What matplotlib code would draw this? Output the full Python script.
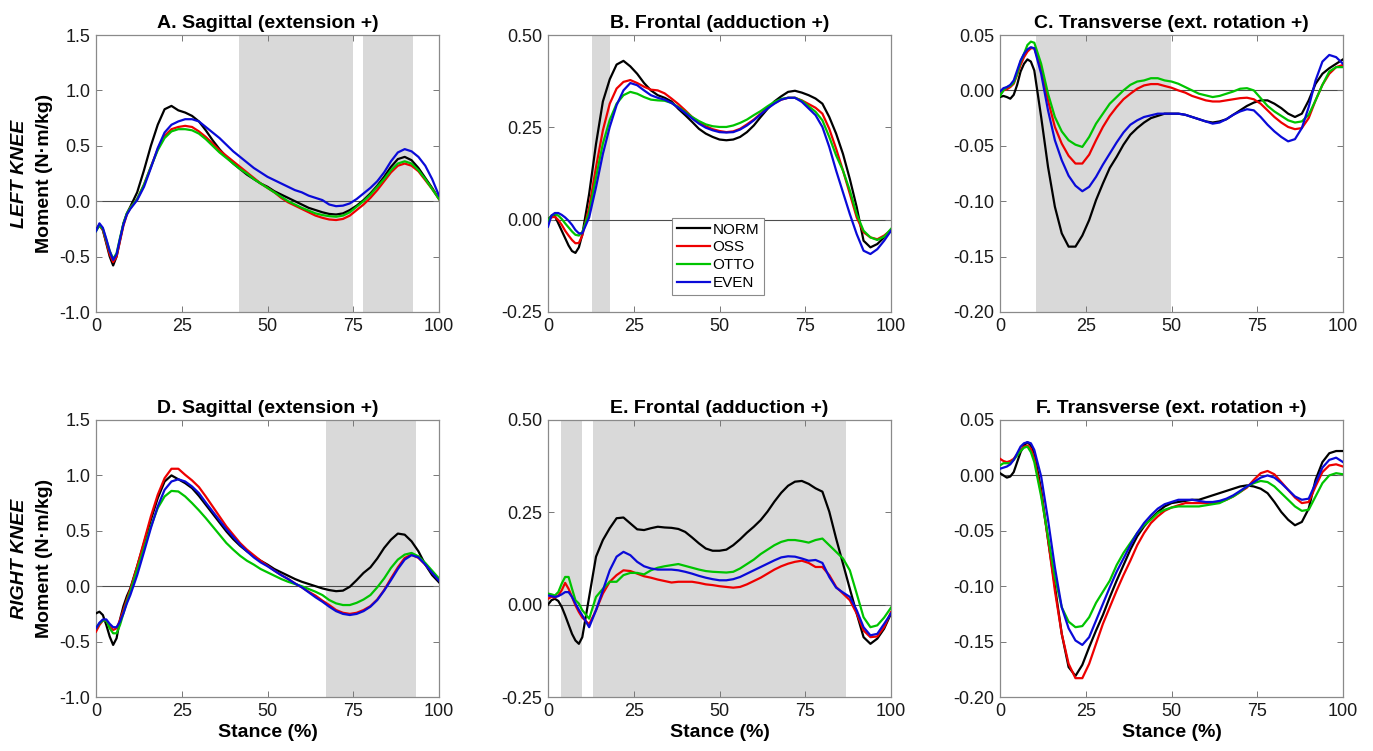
import matplotlib
matplotlib.use('Agg')
import matplotlib.pyplot as plt
import numpy as np

plt.rcParams['font.family'] = ['Liberation Sans', 'DejaVu Sans']

# stance grid (%), finer over the first 10 %
stance = list(range(0, 11)) + list(range(12, 101, 2))

groups = ['NORM', 'OSS', 'OTTO', 'EVEN']
colors = ['#000000', '#ee0000', '#00c400', '#0a0ad8']

# ---- A. left knee, sagittal
a_norm = [-0.26, -0.21, -0.26, -0.38, -0.50, -0.58, -0.50, -0.35, -0.20, -0.11, -0.05,
          0.08, 0.28, 0.50, 0.69, 0.83, 0.86, 0.82, 0.80, 0.77, 0.72, 0.64, 0.55, 0.47, 0.40,
          0.34, 0.29, 0.24, 0.20, 0.16, 0.13, 0.09, 0.06, 0.03, 0.0, -0.03, -0.06, -0.08,
          -0.10, -0.115, -0.12, -0.11, -0.08, -0.04, 0.01, 0.07, 0.14, 0.22, 0.31, 0.38,
          0.40, 0.37, 0.30, 0.21, 0.12, 0.02]
a_oss = [-0.26, -0.22, -0.26, -0.37, -0.48, -0.55, -0.50, -0.36, -0.22, -0.12, -0.06,
         0.02, 0.15, 0.31, 0.47, 0.59, 0.65, 0.67, 0.68, 0.67, 0.63, 0.58, 0.52, 0.46, 0.41,
         0.36, 0.31, 0.26, 0.21, 0.16, 0.12, 0.08, 0.03, -0.01, -0.04, -0.07, -0.10, -0.13,
         -0.15, -0.165, -0.17, -0.16, -0.13, -0.08, -0.03, 0.03, 0.10, 0.18, 0.26, 0.32,
         0.34, 0.32, 0.27, 0.19, 0.11, 0.02]
a_otto = [-0.27, -0.22, -0.25, -0.35, -0.45, -0.52, -0.47, -0.33, -0.20, -0.11, -0.06,
          0.02, 0.15, 0.31, 0.46, 0.57, 0.63, 0.65, 0.65, 0.64, 0.61, 0.56, 0.50, 0.44, 0.39,
          0.34, 0.29, 0.25, 0.20, 0.16, 0.12, 0.08, 0.04, 0.0, -0.03, -0.06, -0.085, -0.11,
          -0.125, -0.135, -0.14, -0.13, -0.10, -0.05, 0.0, 0.06, 0.13, 0.20, 0.28, 0.34,
          0.36, 0.34, 0.28, 0.20, 0.11, 0.02]
a_even = [-0.27, -0.20, -0.24, -0.34, -0.45, -0.53, -0.48, -0.34, -0.21, -0.12, -0.07,
          0.01, 0.13, 0.30, 0.48, 0.62, 0.69, 0.72, 0.74, 0.74, 0.72, 0.67, 0.62, 0.57, 0.51,
          0.45, 0.40, 0.35, 0.30, 0.26, 0.22, 0.19, 0.16, 0.13, 0.10, 0.08, 0.05, 0.03,
          0.01, -0.03, -0.045, -0.04, -0.02, 0.02, 0.07, 0.12, 0.18, 0.26, 0.36, 0.44,
          0.47, 0.45, 0.40, 0.32, 0.20, 0.05]

# ---- B. left knee, frontal
b_norm = [0.0, 0.01, 0.01, -0.01, -0.03, -0.05, -0.07, -0.085, -0.09, -0.075, -0.04,
          0.07, 0.205, 0.32, 0.38, 0.42, 0.43, 0.415, 0.395, 0.37, 0.35, 0.337, 0.33, 0.32,
          0.30, 0.283, 0.265, 0.246, 0.233, 0.224, 0.217, 0.215, 0.217, 0.224, 0.237, 0.255,
          0.278, 0.30, 0.32, 0.334, 0.346, 0.349, 0.344, 0.337, 0.328, 0.314, 0.278, 0.233,
          0.178, 0.11, 0.034, -0.057, -0.075, -0.066, -0.048, -0.03]
b_oss = [-0.003, 0.006, 0.008, -0.001, -0.014, -0.03, -0.043, -0.055, -0.064, -0.063, -0.043,
         0.034, 0.142, 0.242, 0.314, 0.355, 0.373, 0.378, 0.37, 0.36, 0.352, 0.35, 0.342,
         0.328, 0.313, 0.296, 0.278, 0.264, 0.253, 0.245, 0.24, 0.237, 0.239, 0.246, 0.258,
         0.271, 0.287, 0.303, 0.316, 0.325, 0.33, 0.33, 0.323, 0.313, 0.303, 0.287, 0.246,
         0.192, 0.133, 0.07, 0.006, -0.034, -0.048, -0.053, -0.043, -0.028]
b_otto = [-0.003, 0.011, 0.015, 0.011, 0.002, -0.01, -0.021, -0.032, -0.041, -0.043, -0.034,
          0.02, 0.115, 0.206, 0.27, 0.314, 0.337, 0.346, 0.341, 0.332, 0.325, 0.323, 0.322,
          0.316, 0.305, 0.292, 0.278, 0.267, 0.258, 0.253, 0.251, 0.251, 0.255, 0.262, 0.271,
          0.283, 0.294, 0.307, 0.319, 0.327, 0.33, 0.33, 0.322, 0.307, 0.292, 0.269, 0.224,
          0.174, 0.133, 0.079, 0.015, -0.03, -0.048, -0.055, -0.046, -0.025]
b_even = [-0.019, 0.011, 0.018, 0.018, 0.013, 0.006, -0.003, -0.014, -0.028, -0.037, -0.037,
          0.006, 0.088, 0.178, 0.251, 0.31, 0.35, 0.37, 0.364, 0.35, 0.337, 0.33, 0.325,
          0.316, 0.303, 0.289, 0.274, 0.26, 0.249, 0.242, 0.237, 0.236, 0.237, 0.244, 0.255,
          0.269, 0.285, 0.301, 0.314, 0.325, 0.33, 0.33, 0.319, 0.301, 0.283, 0.251, 0.197,
          0.133, 0.074, 0.015, -0.039, -0.084, -0.093, -0.08, -0.057, -0.03]

# ---- C. left knee, transverse
c_norm = [-0.006, -0.005, -0.006, -0.0075, -0.004, 0.005, 0.017, 0.024, 0.028, 0.026, 0.018,
          -0.024, -0.069, -0.105, -0.129, -0.141, -0.141, -0.131, -0.117, -0.099, -0.084,
          -0.07, -0.06, -0.049, -0.04, -0.034, -0.029, -0.025, -0.023, -0.021, -0.021,
          -0.021, -0.022, -0.024, -0.026, -0.028, -0.029, -0.028, -0.026, -0.022, -0.018,
          -0.014, -0.011, -0.009, -0.009, -0.012, -0.016, -0.021, -0.024, -0.021, -0.009,
          0.006, 0.015, 0.02, 0.024, 0.028]
c_oss = [-0.004, 0.0, 0.001, 0.003, 0.006, 0.014, 0.023, 0.03, 0.035, 0.038, 0.038,
         0.02, -0.009, -0.033, -0.048, -0.059, -0.066, -0.066, -0.058, -0.045, -0.033,
         -0.023, -0.015, -0.008, -0.003, 0.0015, 0.0045, 0.0057, 0.0057, 0.004, 0.0024,
         0.0, -0.002, -0.005, -0.007, -0.009, -0.010, -0.010, -0.009, -0.008, -0.007,
         -0.0066, -0.008, -0.012, -0.018, -0.024, -0.029, -0.033, -0.035, -0.034, -0.025,
         -0.009, 0.005, 0.015, 0.021, 0.023]
c_otto = [-0.005, 0.0, 0.003, 0.004, 0.007, 0.015, 0.026, 0.033, 0.041, 0.044, 0.043,
          0.024, -0.003, -0.024, -0.037, -0.045, -0.049, -0.051, -0.042, -0.03, -0.021,
          -0.012, -0.006, 0.0, 0.005, 0.008, 0.009, 0.011, 0.011, 0.009, 0.008, 0.006,
          0.003, 0.0, -0.003, -0.0045, -0.006, -0.005, -0.003, -0.001, 0.0015, 0.002, 0.0,
          -0.007, -0.014, -0.019, -0.023, -0.027, -0.029, -0.028, -0.022, -0.009, 0.005,
          0.017, 0.021, 0.021]
c_even = [-0.001, 0.002, 0.003, 0.005, 0.009, 0.018, 0.027, 0.033, 0.037, 0.039, 0.038,
          0.015, -0.018, -0.045, -0.063, -0.077, -0.086, -0.091, -0.087, -0.078, -0.067,
          -0.057, -0.047, -0.038, -0.031, -0.027, -0.024, -0.0225, -0.021, -0.021, -0.021,
          -0.021, -0.022, -0.024, -0.026, -0.028, -0.03, -0.029, -0.026, -0.022, -0.019,
          -0.017, -0.018, -0.024, -0.031, -0.037, -0.042, -0.046, -0.044, -0.034, -0.015,
          0.009, 0.026, 0.032, 0.03, 0.024]

# ---- D. right knee, sagittal
d_norm = [-0.245, -0.23, -0.26, -0.35, -0.455, -0.53, -0.47, -0.30, -0.18, -0.09, -0.02,
          0.18, 0.39, 0.60, 0.795, 0.945, 1.0, 0.965, 0.93, 0.885, 0.815, 0.735, 0.655,
          0.575, 0.495, 0.425, 0.365, 0.315, 0.27, 0.23, 0.195, 0.155, 0.125, 0.095, 0.065,
          0.04, 0.02, 0.0, -0.02, -0.035, -0.045, -0.04, -0.005, 0.055, 0.12, 0.17, 0.25,
          0.345, 0.42, 0.475, 0.465, 0.405, 0.315, 0.195, 0.10, 0.035]
d_oss = [-0.41, -0.35, -0.31, -0.31, -0.365, -0.395, -0.38, -0.305, -0.215, -0.12, -0.03,
         0.18, 0.405, 0.63, 0.825, 0.975, 1.06, 1.06, 1.005, 0.955, 0.895, 0.81, 0.72, 0.63,
         0.54, 0.465, 0.39, 0.33, 0.28, 0.23, 0.185, 0.14, 0.10, 0.065, 0.025, -0.01, -0.05,
         -0.085, -0.13, -0.17, -0.215, -0.24, -0.25, -0.24, -0.215, -0.18, -0.12, -0.035,
         0.07, 0.17, 0.255, 0.285, 0.255, 0.195, 0.125, 0.06]
d_otto = [-0.38, -0.335, -0.31, -0.31, -0.38, -0.425, -0.425, -0.35, -0.245, -0.14, -0.05,
          0.15, 0.345, 0.54, 0.705, 0.81, 0.86, 0.855, 0.81, 0.75, 0.685, 0.615, 0.54, 0.465,
          0.39, 0.33, 0.275, 0.23, 0.195, 0.155, 0.125, 0.095, 0.065, 0.04, 0.02, 0.0, -0.025,
          -0.05, -0.08, -0.125, -0.155, -0.17, -0.17, -0.15, -0.12, -0.08, -0.01, 0.07,
          0.165, 0.24, 0.285, 0.30, 0.27, 0.21, 0.14, 0.07]
d_even = [-0.38, -0.33, -0.30, -0.30, -0.34, -0.37, -0.37, -0.32, -0.245, -0.155, -0.08,
          0.10, 0.31, 0.525, 0.72, 0.87, 0.945, 0.965, 0.945, 0.90, 0.84, 0.755, 0.675,
          0.595, 0.515, 0.445, 0.375, 0.315, 0.26, 0.215, 0.18, 0.14, 0.10, 0.065, 0.025,
          -0.01, -0.055, -0.10, -0.14, -0.185, -0.225, -0.25, -0.26, -0.25, -0.225, -0.185,
          -0.125, -0.04, 0.055, 0.155, 0.24, 0.28, 0.26, 0.195, 0.12, 0.05]

# ---- E. right knee, frontal
e_norm = [0.0, 0.012, 0.016, 0.01, -0.006, -0.029, -0.054, -0.079, -0.097, -0.106, -0.088,
          0.021, 0.13, 0.175, 0.207, 0.234, 0.236, 0.22, 0.204, 0.202, 0.207, 0.211, 0.209,
          0.208, 0.205, 0.197, 0.182, 0.166, 0.152, 0.146, 0.146, 0.149, 0.161, 0.177,
          0.195, 0.211, 0.229, 0.252, 0.279, 0.303, 0.322, 0.333, 0.335, 0.327, 0.315,
          0.306, 0.252, 0.179, 0.111, 0.043, -0.024, -0.088, -0.106, -0.092, -0.065, -0.024]
e_oss = [0.016, 0.021, 0.019, 0.025, 0.039, 0.059, 0.043, 0.021, -0.002, -0.02, -0.035,
         -0.053, -0.015, 0.03, 0.062, 0.08, 0.093, 0.091, 0.084, 0.077, 0.073, 0.068, 0.064,
         0.06, 0.062, 0.062, 0.062, 0.059, 0.055, 0.053, 0.05, 0.048, 0.046, 0.048, 0.055,
         0.064, 0.073, 0.084, 0.095, 0.104, 0.111, 0.116, 0.119, 0.113, 0.102, 0.102, 0.08,
         0.048, 0.03, 0.012, -0.024, -0.07, -0.088, -0.086, -0.061, -0.02]
e_otto = [0.03, 0.028, 0.025, 0.034, 0.057, 0.075, 0.075, 0.043, 0.012, 0.003, -0.015,
          -0.038, 0.021, 0.043, 0.062, 0.062, 0.08, 0.086, 0.086, 0.082, 0.093, 0.1, 0.104,
          0.107, 0.11, 0.105, 0.1, 0.095, 0.091, 0.089, 0.088, 0.087, 0.089, 0.098, 0.11,
          0.122, 0.137, 0.149, 0.161, 0.17, 0.175, 0.175, 0.172, 0.168, 0.175, 0.179, 0.161,
          0.143, 0.125, 0.093, 0.03, -0.034, -0.061, -0.056, -0.035, -0.008]
e_even = [0.025, 0.023, 0.021, 0.023, 0.028, 0.034, 0.034, 0.021, 0.003, -0.014, -0.029,
          -0.061, -0.015, 0.039, 0.093, 0.13, 0.143, 0.134, 0.116, 0.104, 0.098, 0.095,
          0.095, 0.095, 0.093, 0.089, 0.084, 0.078, 0.073, 0.069, 0.066, 0.066, 0.069,
          0.075, 0.084, 0.093, 0.102, 0.111, 0.12, 0.128, 0.131, 0.13, 0.125, 0.119, 0.121,
          0.113, 0.075, 0.046, 0.033, 0.021, -0.015, -0.061, -0.083, -0.079, -0.052, -0.024]

# ---- F. right knee, transverse
f_norm = [0.002, 0.0, -0.002, -0.001, 0.003, 0.012, 0.021, 0.027, 0.03, 0.027, 0.02,
          -0.013, -0.058, -0.1, -0.143, -0.173, -0.181, -0.171, -0.155, -0.14, -0.126,
          -0.11, -0.095, -0.081, -0.067, -0.055, -0.046, -0.039, -0.033, -0.028, -0.025,
          -0.024, -0.023, -0.022, -0.022, -0.02, -0.018, -0.016, -0.014, -0.012, -0.01,
          -0.009, -0.01, -0.012, -0.016, -0.024, -0.033, -0.04, -0.045, -0.042, -0.03,
          -0.004, 0.012, 0.02, 0.022, 0.022]
f_oss = [0.015, 0.013, 0.012, 0.013, 0.015, 0.019, 0.023, 0.026, 0.027, 0.024, 0.015,
         -0.016, -0.058, -0.104, -0.143, -0.17, -0.183, -0.183, -0.17, -0.152, -0.134,
         -0.119, -0.104, -0.09, -0.077, -0.063, -0.052, -0.043, -0.037, -0.032, -0.029,
         -0.027, -0.025, -0.025, -0.025, -0.025, -0.025, -0.024, -0.022, -0.019, -0.015,
         -0.011, -0.004, 0.002, 0.004, 0.001, -0.006, -0.013, -0.02, -0.025, -0.024, -0.01,
         0.003, 0.009, 0.01, 0.008]
f_otto = [0.009, 0.011, 0.011, 0.011, 0.014, 0.018, 0.022, 0.025, 0.026, 0.021, 0.012,
          -0.019, -0.055, -0.092, -0.119, -0.132, -0.137, -0.136, -0.128, -0.115, -0.105,
          -0.095, -0.081, -0.07, -0.061, -0.052, -0.045, -0.04, -0.034, -0.031, -0.029,
          -0.028, -0.028, -0.028, -0.028, -0.027, -0.026, -0.025, -0.022, -0.019, -0.015,
          -0.01, -0.007, -0.005, -0.006, -0.01, -0.016, -0.022, -0.028, -0.032, -0.031,
          -0.019, -0.007, 0.0, 0.002, 0.001]
f_even = [0.006, 0.007, 0.008, 0.01, 0.014, 0.02, 0.026, 0.029, 0.03, 0.029, 0.023,
          -0.001, -0.04, -0.083, -0.119, -0.138, -0.149, -0.153, -0.146, -0.131, -0.116,
          -0.101, -0.087, -0.075, -0.063, -0.052, -0.043, -0.036, -0.03, -0.026, -0.024,
          -0.022, -0.022, -0.022, -0.023, -0.024, -0.024, -0.023, -0.021, -0.018, -0.014,
          -0.01, -0.006, -0.002, 0.0, -0.002, -0.007, -0.013, -0.019, -0.022, -0.021,
          -0.007, 0.007, 0.014, 0.016, 0.012]

# shaded (significant) stance intervals per panel
a_spans = [(41.7, 75.0), (77.9, 92.3)]
b_spans = [(12.7, 18.0)]
c_spans = [(10.6, 49.8)]
d_spans = [(67.1, 93.3)]
e_spans = [(3.8, 9.8), (13.2, 86.8)]
f_spans = []

titles = ['A. Sagittal (extension +)', 'B. Frontal (adduction +)', 'C. Transverse (ext. rotation +)',
          'D. Sagittal (extension +)', 'E. Frontal (adduction +)', 'F. Transverse (ext. rotation +)']
sag_ticks = [-1.0, -0.5, 0.0, 0.5, 1.0, 1.5]
fro_ticks = [-0.25, 0.0, 0.25, 0.50]
tra_ticks = [-0.20, -0.15, -0.10, -0.05, 0.0, 0.05]

panels = [
    ([a_norm, a_oss, a_otto, a_even], a_spans, sag_ticks, '%.1f'),
    ([b_norm, b_oss, b_otto, b_even], b_spans, fro_ticks, '%.2f'),
    ([c_norm, c_oss, c_otto, c_even], c_spans, tra_ticks, '%.2f'),
    ([d_norm, d_oss, d_otto, d_even], d_spans, sag_ticks, '%.1f'),
    ([e_norm, e_oss, e_otto, e_even], e_spans, fro_ticks, '%.2f'),
    ([f_norm, f_oss, f_otto, f_even], f_spans, tra_ticks, '%.2f'),
]

W, H = 1373, 751
fig = plt.figure(figsize=(W / 100, H / 100), dpi=100)
lefts = [96, 548, 1000]
tops = [35, 420]
aw, ah = 343, 277

axes = []
for i, (series, spans, yt, fmt) in enumerate(panels):
    r, c = divmod(i, 3)
    ax = fig.add_axes([lefts[c] / W, 1 - (tops[r] + ah) / H, aw / W, ah / H])
    axes.append(ax)
    for s0, s1 in spans:
        ax.axvspan(s0, s1, color='#d9d9d9', lw=0, zorder=0)
    ax.axhline(0, color='#4d4d4d', lw=0.8, zorder=1)
    for vals, g, col in zip(series, groups, colors):
        ax.plot(stance, vals, color=col, lw=1.6, label=g, zorder=3)
    ax.set_xlim(0, 100)
    ax.set_ylim(yt[0], yt[-1])
    ax.set_xticks([0, 25, 50, 75, 100])
    ax.set_yticks(yt)
    ax.set_yticklabels([fmt % v for v in yt])
    ax.tick_params(direction='in', top=True, right=True, length=4, width=0.7,
                   color='#777777', labelsize=13, labelcolor='#1a1a1a', pad=4)
    for sp in ax.spines.values():
        sp.set_color('#8a8a8a')
        sp.set_linewidth(0.9)
    ax.set_title(titles[i], fontsize=14, fontweight='bold', pad=5)
    if r == 1:
        ax.set_xlabel('Stance (%)', fontsize=14, fontweight='bold', labelpad=3)
    if c == 0:
        ax.text(-0.149, 0.5, 'Moment (N\u00b7m/kg)', transform=ax.transAxes, rotation=90,
                ha='center', va='center', fontsize=14, fontweight='bold')
        ax.text(-0.222, 0.5, 'LEFT KNEE' if r == 0 else 'RIGHT KNEE', transform=ax.transAxes,
                rotation=90, ha='center', va='center', fontsize=14, fontweight='bold',
                style='italic')

leg = axes[1].legend(loc='upper left', bbox_to_anchor=(0.3615, 0.339), borderaxespad=0,
                     fontsize=11, handlelength=2.2, handletextpad=0.15, labelspacing=0.25,
                     borderpad=0.3, fancybox=False, framealpha=1, edgecolor='#8a8a8a')
leg.get_frame().set_linewidth(0.8)

fig.savefig('out.png', dpi=100)
